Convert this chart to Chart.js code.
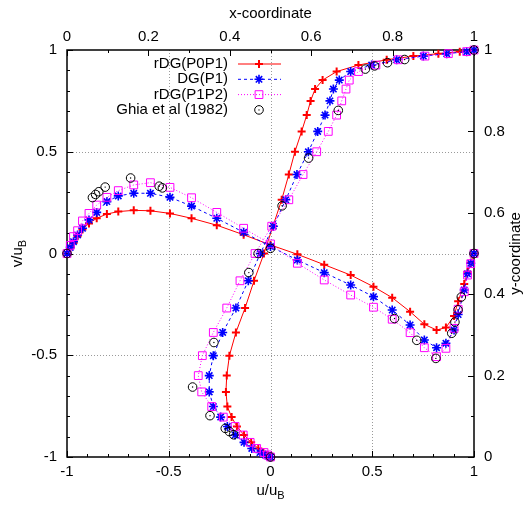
<!DOCTYPE html>
<html>
<head>
<meta charset="utf-8">
<script src="https://cdn.jsdelivr.net/npm/chart.js@4.4.0/dist/chart.umd.min.js"></script>
<style>
  html, body { margin: 0; padding: 0; background: #fff; }
  #wrap { width: 532px; height: 506px; }
</style>
</head>
<body>
<div id="wrap"><canvas id="c" width="532" height="506"></canvas></div>
<script>
// v along the horizontal centre line (x-coordinate, v/uB)
const xNodes = [0, 0.008, 0.016, 0.026, 0.038, 0.054, 0.073, 0.098, 0.126, 0.164, 0.205, 0.253, 0.306, 0.368, 0.434, 0.5, 0.566, 0.632, 0.697, 0.753, 0.799, 0.843, 0.878, 0.908, 0.931, 0.951, 0.961, 0.976, 0.984, 0.992, 1];
const vP0P1 = [0, 0.028, 0.052, 0.085, 0.118, 0.148, 0.173, 0.194, 0.206, 0.212, 0.210, 0.197, 0.173, 0.139, 0.092, 0.042, -0.004, -0.055, -0.106, -0.163, -0.217, -0.286, -0.348, -0.376, -0.364, -0.307, -0.235, -0.150, -0.090, -0.045, 0];
const vP1 = [0, 0.030, 0.058, 0.091, 0.124, 0.165, 0.202, 0.255, 0.283, 0.296, 0.296, 0.276, 0.233, 0.173, 0.104, 0.034, -0.032, -0.094, -0.155, -0.212, -0.278, -0.351, -0.425, -0.463, -0.441, -0.376, -0.300, -0.179, -0.100, -0.048, 0];
const vP1P2 = [0, 0.040, 0.083, 0.112, 0.160, 0.197, 0.238, 0.276, 0.309, 0.337, 0.348, 0.325, 0.274, 0.202, 0.124, 0.047, -0.048, -0.130, -0.204, -0.264, -0.323, -0.389, -0.463, -0.507, -0.466, -0.368, -0.274, -0.188, -0.106, -0.050, 0];

// u along the vertical centre line (u/uB, y-coordinate)
const yNodes = [0, 0.005, 0.011, 0.021, 0.036, 0.054, 0.075, 0.098, 0.124, 0.160, 0.200, 0.249, 0.306, 0.366, 0.433, 0.5, 0.567, 0.632, 0.694, 0.750, 0.800, 0.840, 0.875, 0.904, 0.926, 0.947, 0.963, 0.976, 0.985, 0.991, 0.996, 1];
const uP0P1 = [0, -0.015, -0.035, -0.060, -0.095, -0.130, -0.165, -0.191, -0.212, -0.219, -0.215, -0.202, -0.170, -0.125, -0.081, -0.032, 0.012, 0.055, 0.090, 0.120, 0.153, 0.178, 0.197, 0.219, 0.256, 0.325, 0.432, 0.571, 0.702, 0.825, 0.930, 1];
const uP1 = [0, -0.025, -0.052, -0.092, -0.130, -0.174, -0.212, -0.245, -0.281, -0.301, -0.301, -0.281, -0.235, -0.170, -0.109, -0.050, 0.014, 0.075, 0.130, 0.186, 0.232, 0.268, 0.292, 0.309, 0.338, 0.394, 0.497, 0.620, 0.751, 0.866, 0.964, 1];
const uP1P2 = [0, -0.015, -0.032, -0.068, -0.100, -0.134, -0.174, -0.232, -0.289, -0.338, -0.355, -0.335, -0.281, -0.215, -0.150, -0.076, 0.006, 0.090, 0.160, 0.227, 0.284, 0.325, 0.350, 0.371, 0.387, 0.432, 0.518, 0.628, 0.759, 0.874, 0.964, 1];

// Ghia et al (1982), Re = 1000
const ghiaX = [1.0000, 0.9688, 0.9609, 0.9531, 0.9453, 0.9063, 0.8594, 0.8047, 0.5000, 0.2344, 0.2266, 0.1563, 0.0938, 0.0781, 0.0703, 0.0625, 0.0000];
const ghiaV = [0, -0.21388, -0.27669, -0.33714, -0.39188, -0.51550, -0.42665, -0.31966, 0.02526, 0.32235, 0.33075, 0.37095, 0.32627, 0.30353, 0.29012, 0.27485, 0];
const ghiaY = [1.0000, 0.9766, 0.9688, 0.9609, 0.9531, 0.8516, 0.7344, 0.6172, 0.5000, 0.4531, 0.2813, 0.1719, 0.1016, 0.0703, 0.0625, 0.0547, 0.0000];
const ghiaU = [1, 0.65928, 0.57492, 0.51117, 0.46604, 0.33304, 0.18719, 0.05702, -0.06080, -0.10648, -0.27805, -0.38289, -0.29730, -0.22220, -0.20196, -0.18109, 0];

const labels = ['rDG(P0P1)', 'DG(P1)', 'rDG(P1P2)', 'Ghia et al (1982)'];
const velTicks = [-1, -0.5, 0, 0.5, 1];
const coordTicks = [0, 0.2, 0.4, 0.6, 0.8, 1];
const gridVals = [-0.5, 0, 0.5];

const FONT = "'Liberation Sans', Arial, sans-serif";

const pts = (xs, ys) => xs.map((x, i) => ({x, y: ys[i]}));

const styles = [
  {borderColor: '#ff0000', pointStyle: 'cross', pointRadius: 4, pointBorderWidth: 2, borderWidth: 1, borderDash: [], order: 5},
  {borderColor: '#0000ff', pointStyle: 'star', pointRadius: 4.5, pointBorderWidth: 1.6, borderWidth: 1, borderDash: [3, 3], order: 4},
  {borderColor: '#ff00ff', pointStyle: 'rect', pointRadius: 5.5, pointBorderWidth: 1, borderWidth: 1, borderDash: [1, 2], order: 3},
  {borderColor: '#000000', pointStyle: 'circle', pointRadius: 4.3, pointBorderWidth: 1, borderWidth: 0, borderDash: [], order: 2, showLine: false},
];

const mk = (k, data, xa, ya) => Object.assign({
  label: labels[k], data, xAxisID: xa, yAxisID: ya,
  showLine: true, tension: 0, clip: false,
  backgroundColor: 'rgba(0,0,0,0)', pointBackgroundColor: 'rgba(0,0,0,0)',
  pointHoverRadius: 0,
}, styles[k], {pointBorderColor: styles[k].borderColor});

// centre dot of gnuplot's open circle
const dot = (data, xa, ya) => ({
  data, xAxisID: xa, yAxisID: ya, showLine: false, clip: false, order: 1,
  pointStyle: 'circle', pointRadius: 0.7, pointBorderWidth: 0,
  pointBackgroundColor: '#000', pointHoverRadius: 0,
});

const datasets = [
  mk(0, pts(xNodes, vP0P1), 'x2', 'y'),
  mk(0, pts(uP0P1, yNodes), 'x', 'y2'),
  mk(1, pts(xNodes, vP1), 'x2', 'y'),
  mk(1, pts(uP1, yNodes), 'x', 'y2'),
  mk(2, pts(xNodes, vP1P2), 'x2', 'y'),
  mk(2, pts(uP1P2, yNodes), 'x', 'y2'),
  mk(3, pts(ghiaX, ghiaV), 'x2', 'y'),
  mk(3, pts(ghiaU, ghiaY), 'x', 'y2'),
  dot(pts(ghiaX, ghiaV), 'x2', 'y'),
  dot(pts(ghiaU, ghiaY), 'x', 'y2'),
];

function line(ctx, x1, y1, x2, y2) {
  ctx.beginPath(); ctx.moveTo(x1, y1); ctx.lineTo(x2, y2); ctx.stroke();
}

// inward tick marks every `step`, long ones on multiples of `major`
function tickMarks(ctx, scale, lo, hi, step, major, side, a) {
  const n = Math.round((hi - lo) / step);
  for (let i = 0; i <= n; i++) {
    const v = lo + i * step;
    const isMajor = Math.abs(v / major - Math.round(v / major)) < 1e-6;
    const len = isMajor ? 6 : 3;
    const p = Math.round(scale.getPixelForValue(v)) + 0.5;
    if (side === 'bottom') line(ctx, p, a.bottom, p, a.bottom - len);
    if (side === 'top') line(ctx, p, a.top, p, a.top + len);
    if (side === 'left') line(ctx, a.left, p, a.left + len, p);
    if (side === 'right') line(ctx, a.right, p, a.right - len, p);
  }
}

function subTitle(ctx, main, sub, cx, cy) {
  ctx.font = '15px ' + FONT;
  const w1 = ctx.measureText(main).width;
  ctx.font = '11px ' + FONT;
  const w2 = ctx.measureText(sub).width;
  const x0 = cx - (w1 + w2) / 2;
  ctx.textAlign = 'left'; ctx.textBaseline = 'middle';
  ctx.font = '15px ' + FONT;
  ctx.fillText(main, x0, cy);
  ctx.font = '11px ' + FONT;
  ctx.fillText(sub, x0 + w1, cy + 5);
}

const frame = {
  id: 'frame',
  beforeDatasetsDraw(chart) {
    const {ctx, chartArea: a, scales} = chart;
    ctx.save();
    ctx.strokeStyle = '#9a9a9a'; ctx.lineWidth = 1; ctx.setLineDash([1, 2]);
    gridVals.forEach(v => {
      const px = Math.round(scales.x.getPixelForValue(v)) + 0.5;
      line(ctx, px, a.top, px, a.bottom);
      const py = Math.round(scales.y.getPixelForValue(v)) + 0.5;
      line(ctx, a.left, py, a.right, py);
    });
    ctx.setLineDash([]);
    ctx.strokeStyle = '#000';
    tickMarks(ctx, scales.x, -1, 1, 0.1, 0.5, 'bottom', a);
    tickMarks(ctx, scales.y, -1, 1, 0.1, 0.5, 'left', a);
    tickMarks(ctx, scales.x2, 0, 1, 0.1, 0.2, 'top', a);
    tickMarks(ctx, scales.y2, 0, 1, 0.1, 0.2, 'right', a);
    ctx.lineWidth = 1.5;
    ctx.strokeRect(a.left, a.top, a.right - a.left, a.bottom - a.top);
    ctx.restore();
  },
  afterDatasetsDraw(chart) {
    const {ctx, chartArea: a} = chart;
    const cx = (a.left + a.right) / 2, cy = (a.top + a.bottom) / 2;
    ctx.save();
    ctx.fillStyle = '#000';
    ctx.font = '15px ' + FONT;
    ctx.textAlign = 'center'; ctx.textBaseline = 'middle';
    ctx.fillText('x-coordinate', cx, 14);
    subTitle(ctx, 'u/u', 'B', cx, 491);
    ctx.save(); ctx.translate(18, cy); ctx.rotate(-Math.PI / 2);
    subTitle(ctx, 'v/u', 'B', 0, 0);
    ctx.restore();
    ctx.save(); ctx.translate(516, cy); ctx.rotate(-Math.PI / 2);
    ctx.font = '15px ' + FONT; ctx.textAlign = 'center';
    ctx.fillText('y-coordinate', 0, 0);
    ctx.restore();

    // key, top left inside the plot
    styles.forEach((s, i) => {
      const y = a.top + 14 + i * 15.3;
      const mx = a.left + 192;
      ctx.fillStyle = '#000'; ctx.font = '15px ' + FONT;
      ctx.textAlign = 'right'; ctx.textBaseline = 'middle';
      ctx.fillText(labels[i], a.left + 161, y);
      ctx.strokeStyle = s.borderColor;
      if (s.borderWidth > 0) {
        ctx.lineWidth = s.borderWidth; ctx.setLineDash(s.borderDash);
        line(ctx, a.left + 171, y, a.left + 214, y);
        ctx.setLineDash([]);
      }
      ctx.lineWidth = s.pointBorderWidth;
      ctx.fillStyle = 'rgba(0,0,0,0)';
      Chart.helpers.drawPoint(ctx, {pointStyle: s.pointStyle, radius: s.pointRadius, borderWidth: s.pointBorderWidth, rotation: 0}, mx, y);
      if (i === 3) {
        ctx.fillStyle = '#000';
        ctx.beginPath(); ctx.arc(mx, y, 0.7, 0, Math.PI * 2); ctx.fill();
      }
    });
    ctx.restore();
  }
};

const tickFont = {family: FONT, size: 15};
const axis = (pos, min, max, vals, pad, size) => ({
  type: 'linear', position: pos, min, max,
  grid: {display: false, drawTicks: false},
  border: {display: false},
  ticks: {color: '#000', font: tickFont, padding: pad, maxRotation: 0, autoSkip: false,
          callback: v => String(+v.toFixed(2))},
  afterBuildTicks: s => { s.ticks = vals.map(v => ({value: v})); },
  afterFit: s => { if (pos === 'left' || pos === 'right') s.width = size; else s.height = size; },
});

new Chart(document.getElementById('c'), {
  type: 'scatter',
  data: {datasets},
  plugins: [frame],
  options: {
    responsive: false,
    animation: false,
    devicePixelRatio: 1,
    layout: {padding: 0},
    events: [],
    plugins: {legend: {display: false}, tooltip: {enabled: false}},
    scales: {
      x: axis('bottom', -1, 1, velTicks, 6, 49),
      y: axis('left', -1, 1, velTicks, 10, 67),
      x2: axis('top', 0, 1, coordTicks, 4, 50),
      y2: axis('right', 0, 1, coordTicks, 10, 58),
    }
  }
});
</script>
</body>
</html>
